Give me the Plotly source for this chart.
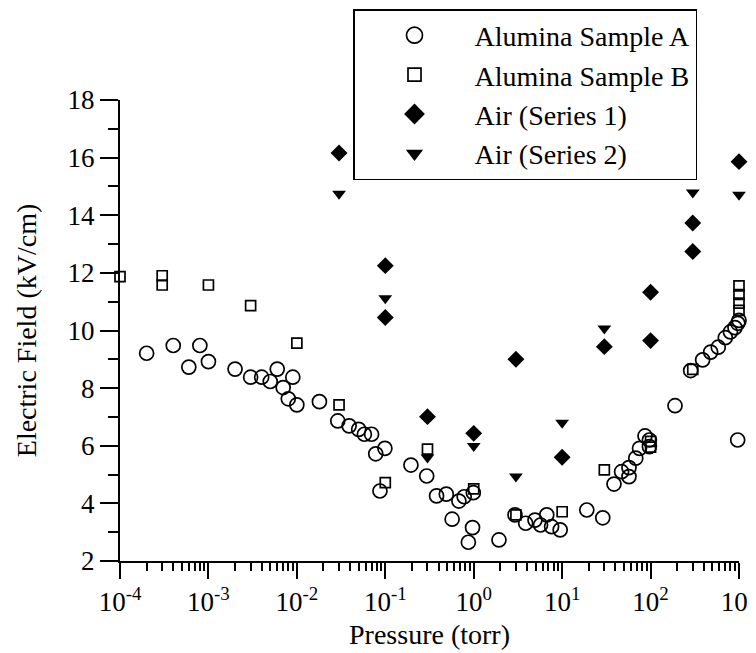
import plotly.graph_objects as go

FONT = "Liberation Serif"

# Alumina Sample A (open circles)
a_p = [2e-4, 4e-4, 6e-4, 8e-4, 1e-3, 2e-3, 3e-3, 4e-3, 5e-3, 6e-3, 7e-3, 8e-3, 9e-3,
       1e-2, 0.018, 0.029, 0.039, 0.05, 0.058, 0.07, 0.078, 0.087, 0.099,
       0.195, 0.294, 0.38, 0.49, 0.57, 0.68, 0.78, 0.87, 0.97, 0.99,
       1.93, 2.93, 3.87, 4.93, 5.7, 6.7, 7.6, 9.5, 19, 28.8,
       38.6, 47, 57, 57, 68, 75, 86.5, 97, 97, 189, 284, 388, 478, 583,
       700, 800, 900, 970, 1000, 966]
a_e = [9.21, 9.48, 8.73, 9.48, 8.92, 8.66, 8.38, 8.38, 8.23, 8.66, 8.02, 7.63, 8.38,
       7.42, 7.53, 6.86, 6.69, 6.57, 6.40, 6.40, 5.72, 4.43, 5.91,
       5.33, 4.95, 4.26, 4.32, 3.45, 4.08, 4.23, 2.65, 3.16, 4.37,
       2.73, 3.6, 3.31, 3.42, 3.25, 3.6, 3.19, 3.08, 3.77, 3.5,
       4.67, 5.1, 4.93, 5.24, 5.57, 5.91, 6.34, 6.2, 5.97, 7.39, 8.61, 8.98, 9.25, 9.42,
       9.75, 9.95, 10.1, 10.25, 10.35, 6.2]

# Alumina Sample B (open squares)
b_p = [1e-4, 3e-4, 3e-4, 1e-3, 3e-3, 1e-2, 0.03, 0.1, 0.3, 1, 3, 10, 30,
       100, 100, 300, 1000, 1000, 1000, 1000]
b_e = [11.87, 11.9, 11.58, 11.58, 10.86, 9.56, 7.42, 4.72, 5.88, 4.5, 3.6, 3.71, 5.16,
       5.95, 6.15, 8.65, 10.7, 10.95, 11.25, 11.55]

# Air (Series 1) (filled diamonds)
s1_p = [0.03, 0.1, 0.1, 0.3, 1, 3, 10, 30, 100, 100, 300, 300, 1000]
s1_e = [16.16, 12.25, 10.45, 7.01, 6.43, 9.0, 5.6, 9.44, 11.33, 9.65, 13.73, 12.74, 15.86]

# Air (Series 2) (filled down triangles)
s2_p = [0.03, 0.1, 0.3, 1, 3, 10, 30, 300, 1000]
s2_e = [14.75, 11.12, 5.59, 5.99, 4.93, 6.8, 10.07, 14.79, 14.71]

decades = [-4, -3, -2, -1, 0, 1, 2, 3]
tick_vals = [10.0 ** d for d in decades]
tick_text = ["10<sup>%d</sup>" % d for d in decades]
minor_vals = [k * 10.0 ** d for d in decades[:-1] for k in range(2, 10)]

series = [
    ("Alumina Sample A", a_p, a_e, dict(symbol="circle-open", size=14, color="black", line=dict(width=1.7)), 16),
    ("Alumina Sample B", b_p, b_e, dict(symbol="square-open", size=10, color="black", line=dict(width=1.7)), 13),
    ("Air (Series 1)", s1_p, s1_e, dict(symbol="diamond", size=13, color="black"), 16),
    ("Air (Series 2)", s2_p, s2_e, dict(symbol="triangle-down", size=12, color="black"), 15),
]

fig = go.Figure()
for name, xs, ys, mk, lsize in series:
    fig.add_trace(go.Scatter(x=xs, y=ys, mode="markers", marker=mk, showlegend=False, cliponaxis=False))
for name, xs, ys, mk, lsize in series:
    m = dict(mk)
    m["size"] = lsize
    fig.add_trace(go.Scatter(x=[None], y=[None], mode="markers", marker=m, name=name))

# the page body puts the figure 8px in from the top-left corner;
# plot area is 112..731 x 92..553 in figure pixels
W, H = 756, 653
L, R, T, B = 112, 25, 92, 100
plot_w = W - L - R
plot_h = H - T - B
fig.update_layout(
    width=W, height=H,
    margin=dict(l=L, r=R, t=T, b=B, autoexpand=False),
    paper_bgcolor="white", plot_bgcolor="white",
    font=dict(family=FONT, size=27, color="black"),
    legend=dict(
        x=(345 - L) / plot_w, y=(plot_h + T - 1) / plot_h, xanchor="left", yanchor="top",
        bordercolor="black", borderwidth=1.5, bgcolor="white",
        font=dict(family=FONT, size=28, color="black"),
        itemwidth=110,
    ),
)
fig.update_xaxes(
    type="log", range=[-4, 3],
    tickvals=tick_vals, ticktext=tick_text,
    ticks="outside", ticklen=16, tickwidth=2, tickcolor="black",
    minor=dict(ticks="outside", ticklen=8, tickwidth=1.5, tickcolor="black", tickvals=minor_vals),
    showline=True, linewidth=2, linecolor="black",
    showgrid=False, zeroline=False,
    title=dict(text="Pressure (torr)", font=dict(size=28), standoff=8),
)
fig.update_yaxes(
    range=[2, 18], dtick=2, tick0=2,
    ticks="outside", ticklen=18, tickwidth=2, tickcolor="black",
    minor=dict(ticks="outside", ticklen=10, tickwidth=1.5, tickcolor="black", dtick=1),
    showline=True, linewidth=2, linecolor="black",
    showgrid=False, zeroline=False,
    title=dict(text="Electric Field (kV/cm)", font=dict(size=28), standoff=23),
)

fig.write_html("out.html")
